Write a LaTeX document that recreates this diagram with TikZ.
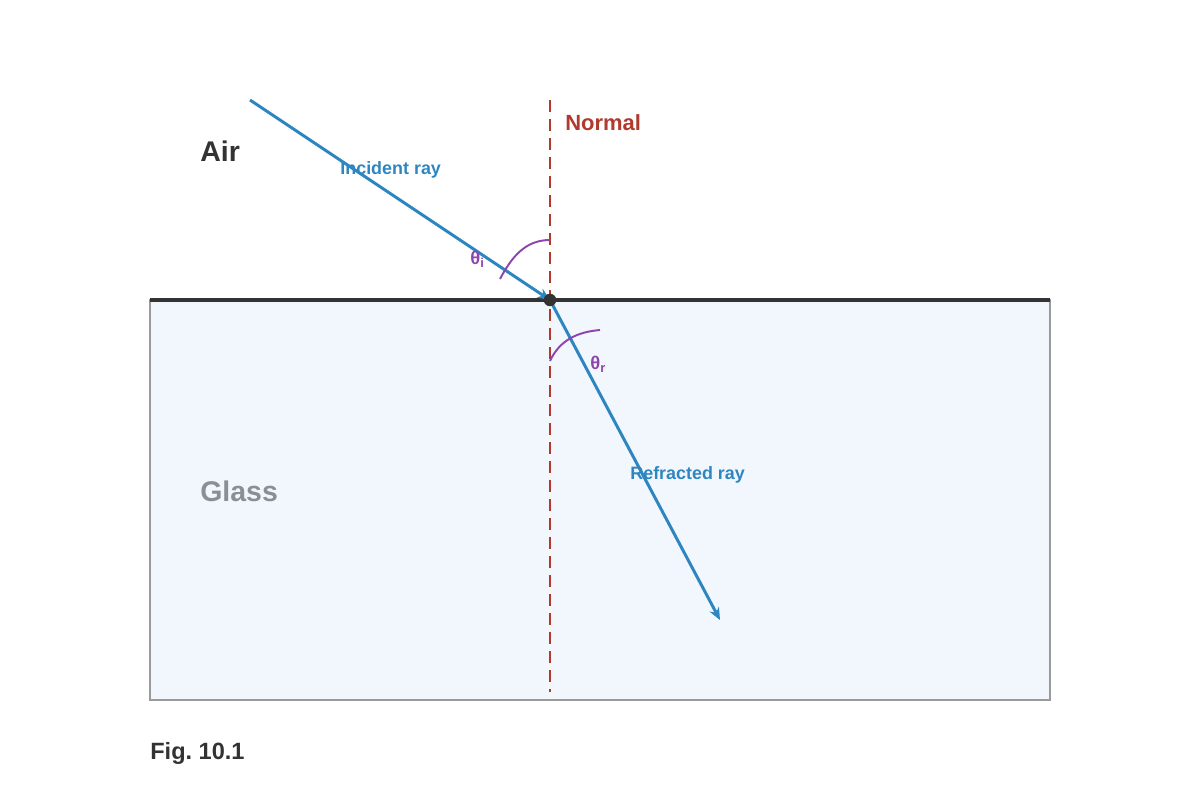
\documentclass[tikz,border=0pt]{standalone}
\usepackage{fontspec}
\setmainfont{Liberation Sans}
\usetikzlibrary{arrows.meta}
\definecolor{raycol}{HTML}{2E86C1}
\definecolor{normcol}{HTML}{B03A2E}
\definecolor{anglecol}{HTML}{8E44AD}
\definecolor{inkcol}{HTML}{333333}
\definecolor{glasscol}{HTML}{F2F7FD}
\definecolor{edgecol}{HTML}{9A9A9A}
\definecolor{greycol}{HTML}{8A8F93}
\begin{document}
\begin{tikzpicture}[x=0.02cm, y=-0.02cm,
  ray/.style={raycol, line width=1.7pt, -{Stealth[length=7pt,width=6pt]}},
  anglearc/.style={anglecol, line width=1.1pt},
  lbl/.style={inner sep=0pt, anchor=west}]
\useasboundingbox (0,0) rectangle (1200,800);
% glass block and surface
\draw[fill=glasscol, draw=edgecol, line width=0.9pt] (150,300) rectangle (1050,700);
\coordinate (sl) at (150,300);
\coordinate (sr) at (1050,300);
\draw[inkcol, line width=2pt] (sl) -- (sr);
% normal
\coordinate (ntop) at (550,100);
\coordinate (nbot) at (550,692);
\draw[normcol, line width=1.1pt, dash pattern=on 0.24cm off 0.14cm] (ntop) -- (nbot);
% rays
\coordinate (src) at (250,100);
\coordinate (hit) at (550,300);
\coordinate (out) at (720,620);
\draw[ray] (src) -- (hit);
\draw[ray] (hit) -- (out);
\node[circle, fill=inkcol, inner sep=0pt, minimum size=0.25cm] (dot) at (hit){};
% angles
\coordinate (ai0) at (500,279);
\coordinate (ai1) at (550,240);
\draw[anglearc] (ai0) to[out=62, in=180] (ai1);
\coordinate (ar0) at (550,361);
\coordinate (ar1) at (600,330);
\draw[anglearc] (ar0) to[out=65, in=185] (ar1);
% labels
\node[lbl, text=inkcol, font=\bfseries\fontsize{16.2}{19}\selectfont] (air) at (200,151) {Air};
\node[lbl, text=greycol, font=\bfseries\fontsize{16.2}{19}\selectfont] (glass) at (200,491) {Glass};
\node[lbl, text=normcol, font=\bfseries\fontsize{12.5}{15}\selectfont] (normal) at (565,123) {Normal};
\node[lbl, text=raycol, font=\bfseries\fontsize{10.2}{12}\selectfont] (inc) at (340,170) {Incident ray};
\node[lbl, text=raycol, font=\bfseries\fontsize{10.2}{12}\selectfont] (refr) at (630,475) {Refracted ray};
\node[lbl, text=anglecol, font=\bfseries\fontsize{10.5}{12}\selectfont] (thi) at (470,259) {θ\textsubscript{i}};
\node[lbl, text=anglecol, font=\bfseries\fontsize{10.5}{12}\selectfont] (thr) at (590,364) {θ\textsubscript{r}};
\node[lbl, text=inkcol, font=\bfseries\fontsize{13.4}{16}\selectfont] (fig) at (150,753) {Fig.~10.1};
\end{tikzpicture}
\end{document}
